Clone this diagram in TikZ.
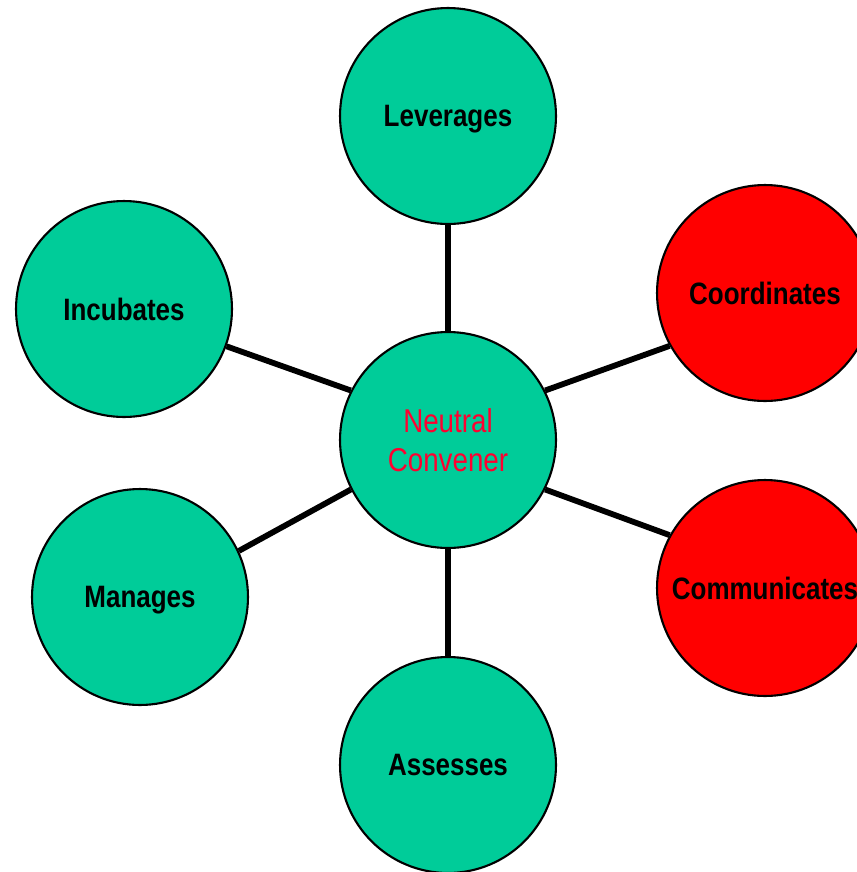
\documentclass[tikz,border=0pt]{standalone}
\usepackage{fontspec}
\setmainfont{Liberation Sans}[FakeStretch=0.84]
\usepackage{tikz}
\usetikzlibrary{positioning}

\definecolor{leafgreen}{HTML}{00CC99}
\definecolor{hotred}{HTML}{FF0000}
\definecolor{hubtext}{HTML}{FF0030}

\tikzset{
  bubble/.style={circle, draw=black, line width=1.2pt, minimum size=4.32cm, inner sep=0pt,
    text depth=0pt, font=\fontsize{17.6}{22}\selectfont\bfseries},
  hubbubble/.style={circle, draw=black, line width=1.2pt, minimum size=4.32cm, inner sep=0pt,
    fill=leafgreen, align=center, text=hubtext, font=\fontsize{18.8}{22}\selectfont},
  link/.style={line width=3.3pt, black}
}

\begin{document}
\begin{tikzpicture}[x=0.02cm, y=-0.02cm]
        \useasboundingbox (0,0) rectangle (857,872);
        % Centre circle
        \node[hubbubble] (hub) at (448,440) {Neutral\\Convener};
        % Outer circles
        \foreach \name/\x/\y/\col/\txt in {
          lev/448/116/leafgreen/Leverages,
          inc/124/309/leafgreen/Incubates,
          coo/765/293/hotred/Coordinates,
          com/765/588/hotred/Communicates,
          man/140/597/leafgreen/Manages,
          ass/448/765/leafgreen/Assesses
        } {
          \node[bubble, fill=\col] (\name) at (\x,\y) {\txt};
        }
        % Spokes
        \foreach \from/\to in {
          90/lev.270,
          153/inc.340,
          27/coo.209,
          333/com.151,
          207/man.25,
          270/ass.90
        } {
          \draw[link] (hub.\from) -- (\to);
        }
      \end{tikzpicture}
\end{document}
